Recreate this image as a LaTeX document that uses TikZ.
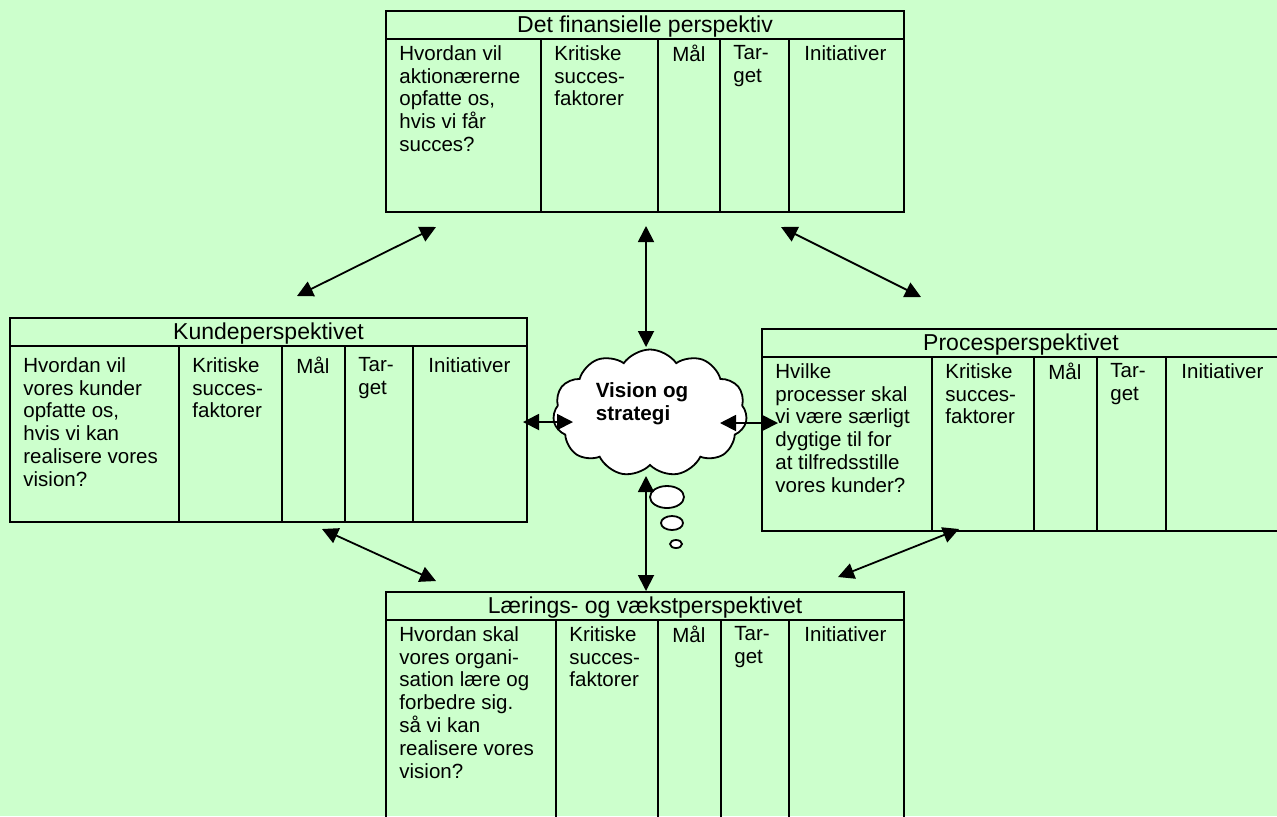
\documentclass[tikz,border=0pt]{standalone}
\usepackage{fontspec}
\setmainfont{Liberation Sans}
\usepackage{tikz}
\usetikzlibrary{arrows.meta, shapes.symbols, shapes.geometric}
\definecolor{bsgreen}{HTML}{CCFFCC}

\tikzset{
  tabel/.style={line width=0.9pt},
  titel/.style={inner sep=0pt, yshift=-1pt, font=\fontsize{11.5}{13}\selectfont},
  celle/.style={anchor=north west, inner sep=0pt, align=left, font=\fontsize{10.25}{11.4}\selectfont},
  pil/.style={{Triangle[length=8pt,width=8pt]}-{Triangle[length=8pt,width=8pt]}, line width=0.9pt},
  sky/.style={cloud, cloud puffs=11, cloud puff arc=110, cloud ignores aspect, draw, fill=white, line width=0.9pt, minimum width=97pt, minimum height=63.5pt, inner sep=0pt},
  boble/.style={ellipse, draw, fill=white, line width=0.9pt, inner sep=0pt}
}

% one perspective: name, left, top, right, bottom, the four column lines
\newcommand{\perspektiv}[9]{%
  \pgfmathsetmacro{\skille}{#3+28}
  \draw[tabel] (#2,#3) rectangle (#4,#5);
  \draw[tabel] (#2,\skille) -- (#4,\skille);
  \foreach \x in {#6,#7,#8,#9}
    \draw[tabel] (\x,\skille) -- (\x,#5);
  \coordinate (#1) at ({(#2+#4)/2},{(#3+\skille)/2});
  \coordinate (#1-spm) at (#2+13,\skille+6);
  \node[celle] (#1-ksf) at (#6+13,\skille+6) {Kritiske\\succes-\\faktorer};
  \node[celle] (#1-maal) at (#7+14,\skille+6) {Mål};
  \node[celle] (#1-target) at (#8+13,\skille+6) {Tar-\\get};
  \node[celle] (#1-init) at (#9+15,\skille+6) {Initiativer};
}

\begin{document}
\begin{tikzpicture}[x=0.5pt, y=-0.5pt]
  \useasboundingbox (0,0) rectangle (1277,816);
  \fill[bsgreen] (0,0) rectangle (1277,816);
  \clip (0,0) rectangle (1277,816);

  % the four perspectives
  \perspektiv{fin}{386}{11}{904}{212}{541}{658}{720}{789}
  \node[titel] (fin-titel) at (fin) {Det finansielle perspektiv};
  \node[celle] (fin-q) at (fin-spm) {Hvordan vil\\aktionærerne\\opfatte os,\\hvis vi får\\succes?};

  \begin{scope}[celle/.append style={yshift=-2.5pt}]
    \perspektiv{kunde}{10}{318}{527}{522}{179}{282}{345}{413}
    \node[titel] (kunde-titel) at (kunde) {Kundeperspektivet};
    \node[celle] (kunde-q) at (kunde-spm) {Hvordan vil\\vores kunder\\opfatte os,\\hvis vi kan\\realisere vores\\vision?};
  \end{scope}

  \perspektiv{proces}{762}{329}{1280}{531}{932}{1034}{1097}{1166}
  \node[titel] (proces-titel) at (proces) {Procesperspektivet};
  \node[celle] (proces-q) at (proces-spm) {Hvilke\\processer skal\\vi være særligt\\dygtige til for\\at tilfredsstille\\vores kunder?};

  \perspektiv{laering}{386}{592}{904}{840}{556}{658}{721}{789}
  \node[titel] (laering-titel) at (laering) {Lærings- og vækstperspektivet};
  \node[celle] (laering-q) at (laering-spm) {Hvordan skal\\vores organi-\\sation lære og\\forbedre sig.\\så vi kan\\realisere vores\\vision?};

  % vision cloud with thought bubbles
  \node[sky] (vision) at (650,413) {};
  \node[align=left, inner sep=0pt, font=\fontsize{10.3}{11.5}\selectfont\bfseries] (vision-tekst) at (642,404) {Vision og\\strategi};
  \node[boble, minimum width=17pt, minimum height=11pt] (boble1) at (667,497) {};
  \node[boble, minimum width=11pt, minimum height=7pt] (boble2) at (672,523) {};
  \node[boble, minimum width=6pt, minimum height=4pt] (boble3) at (676,544) {};

  % arrow ends
  \coordinate (kunde-fin) at (297,296);    \coordinate (fin-kunde) at (436,227);
  \coordinate (fin-vision) at (646,226);   \coordinate (vision-fin) at (646,347);
  \coordinate (fin-proces) at (781,227);   \coordinate (proces-fin) at (921,297);
  \coordinate (kunde-vision) at (523,422); \coordinate (vision-kunde) at (573,422);
  \coordinate (vision-proces) at (720,423); \coordinate (proces-vision) at (778,423);
  \coordinate (vision-laering) at (646,476); \coordinate (laering-vision) at (646,591);
  \coordinate (kunde-laering) at (322,529); \coordinate (laering-kunde) at (436,581);
  \coordinate (proces-laering) at (959,529); \coordinate (laering-proces) at (838,577);

  \foreach \a/\b in {kunde-fin/fin-kunde, fin-vision/vision-fin, fin-proces/proces-fin,
                     kunde-vision/vision-kunde, vision-proces/proces-vision,
                     vision-laering/laering-vision, kunde-laering/laering-kunde,
                     proces-laering/laering-proces}
    \draw[pil] (\a) -- (\b);
\end{tikzpicture}
\end{document}
